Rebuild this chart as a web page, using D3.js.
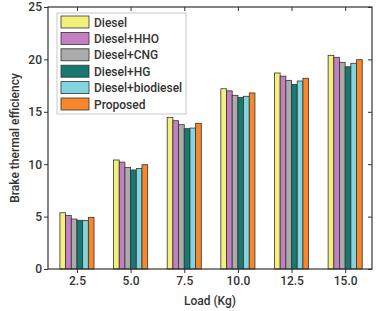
<!DOCTYPE html>
<html>
<head>
<meta charset="utf-8">
<script src="https://cdn.jsdelivr.net/npm/d3@7"></script>
<style>
  body { margin: 0; background: #fff; }
  svg text { font-family: Roboto, "DejaVu Sans", sans-serif; fill: #333; font-weight: 500; }
</style>
</head>
<body>
<div id="chart"></div>
<script>
// chart data
const loads = [2.5, 5.0, 7.5, 10.0, 12.5, 15.0];
const seriesNames = ["Diesel", "Diesel+HHO", "Diesel+CNG", "Diesel+HG", "Diesel+biodiesel", "Proposed"];
const diesel    = [5.37, 10.4, 14.47, 17.2, 18.7, 20.39];
const dieselHHO = [5.12, 10.2, 14.15, 17.0, 18.4, 20.2];
const dieselCNG = [4.77, 9.7, 13.77, 16.57, 18.0, 19.72];
const dieselHG  = [4.65, 9.45, 13.39, 16.38, 17.62, 19.3];
const dieselBio = [4.62, 9.6, 13.45, 16.48, 17.94, 19.63];
const proposed  = [4.93, 9.95, 13.9, 16.8, 18.2, 19.97];
const yTicks = [0, 5, 10, 15, 20, 25];

const allSeries = [diesel, dieselHHO, dieselCNG, dieselHG, dieselBio, proposed];
const colors = ["#f4f07c", "#c47fc2", "#ababab", "#19786f", "#82d4df", "#f7872a"];

const width = 379, height = 311;
const margin = { left: 48, right: 7, top: 7, bottom: 42 };

const svg = d3.select("#chart").append("svg")
    .attr("width", width)
    .attr("height", height);

const x = d3.scaleLinear().domain([1.15, 16.25]).range([margin.left, width - margin.right]);
const y = d3.scaleLinear().domain([0, 25]).range([height - margin.bottom, margin.top]);

const barW = x(0.265) - x(0);

// bars
allSeries.forEach(function (vals, i) {
    svg.append("g").selectAll("rect")
        .data(vals)
        .enter().append("rect")
        .attr("x", (d, j) => x(loads[j]) + (i - 3) * barW)
        .attr("y", d => y(d))
        .attr("width", barW)
        .attr("height", d => y(0) - y(d))
        .attr("fill", colors[i])
        .attr("stroke", "#333")
        .attr("stroke-width", 0.8);
});

// axes
svg.append("g")
    .attr("transform", `translate(0,${y(0)})`)
    .call(d3.axisBottom(x).tickValues(loads).tickFormat(d3.format(".1f")).tickSize(4).tickPadding(3));
svg.append("g")
    .attr("transform", `translate(${margin.left},0)`)
    .call(d3.axisLeft(y).tickValues(yTicks).tickSize(4).tickPadding(2));
// mirrored ticks, pointing inside
svg.append("g")
    .attr("transform", `translate(0,${margin.top})`)
    .call(d3.axisBottom(x).tickValues(loads).tickFormat("").tickSize(4));
svg.append("g")
    .attr("transform", `translate(${width - margin.right},0)`)
    .call(d3.axisLeft(y).tickValues(yTicks).tickFormat("").tickSize(4));

svg.selectAll(".domain").remove();
svg.selectAll(".tick line").attr("stroke", "#333").attr("stroke-width", 1);
svg.selectAll(".tick text").style("font-size", "12px").style("fill", "#333");

// frame
svg.append("rect")
    .attr("x", margin.left)
    .attr("y", margin.top)
    .attr("width", width - margin.left - margin.right)
    .attr("height", height - margin.top - margin.bottom)
    .attr("fill", "none")
    .attr("stroke", "#333")
    .attr("stroke-width", 1.2);

// axis labels
svg.append("text")
    .attr("x", (margin.left + width - margin.right) / 2)
    .attr("y", 305)
    .attr("text-anchor", "middle")
    .style("font-size", "12px")
    .text("Load (Kg)");
svg.append("text")
    .attr("transform", `translate(19,${(margin.top + height - margin.bottom) / 2}) rotate(-90)`)
    .attr("text-anchor", "middle")
    .style("font-size", "12px")
    .text("Brake thermal efficiency");

// legend
const legend = svg.append("g").attr("transform", "translate(57,13)");
legend.append("rect")
    .attr("width", 129)
    .attr("height", 101)
    .attr("fill", "#fff")
    .attr("fill-opacity", 0.85)
    .attr("stroke", "#bbb")
    .attr("stroke-width", 0.8);
seriesNames.forEach(function (name, i) {
    const row = legend.append("g").attr("transform", `translate(4,${3 + i * 16.4})`);
    row.append("rect")
        .attr("width", 28)
        .attr("height", 12)
        .attr("fill", colors[i])
        .attr("stroke", "#333")
        .attr("stroke-width", 0.8);
    row.append("text")
        .attr("x", 33)
        .attr("y", 10.5)
        .style("font-size", "12px")
        .text(name);
});
</script>
</body>
</html>
